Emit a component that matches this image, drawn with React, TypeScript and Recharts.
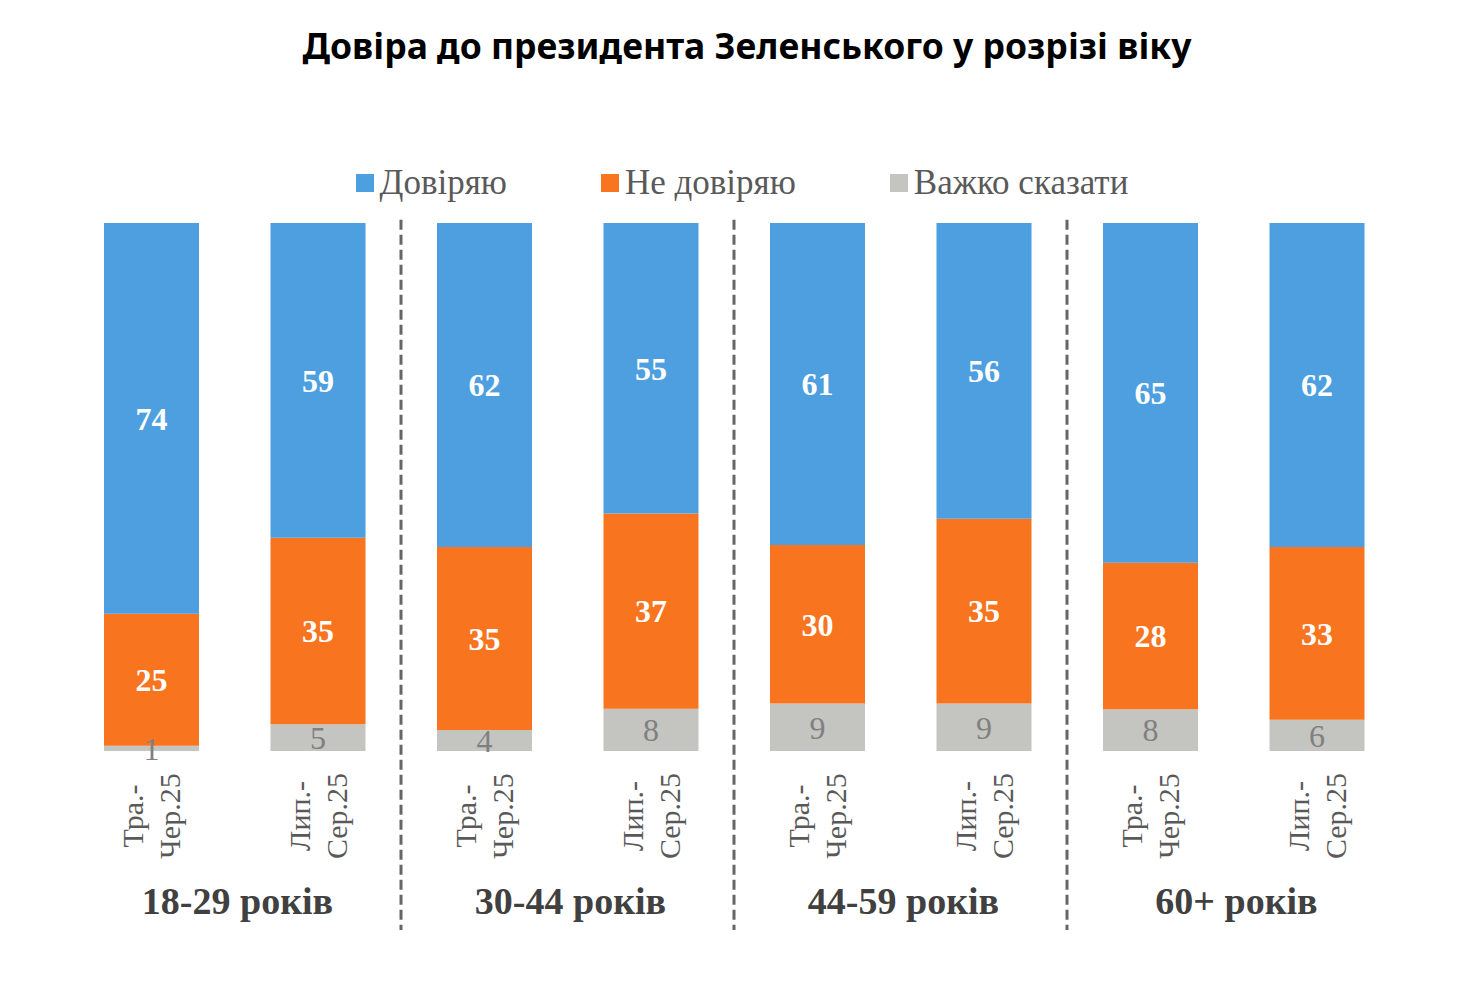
import React from "react";
import { BarChart, Bar, XAxis, YAxis, Legend, LabelList, ReferenceLine } from "recharts";

const ageGroups = ["18-29 років", "30-44 років", "44-59 років", "60+ років"];
const periods = [["Тра.-", "Чер.25"], ["Лип.-", "Сер.25"]];
const trust = [74, 59, 62, 55, 61, 56, 65, 62];
const distrust = [25, 35, 35, 37, 30, 35, 28, 33];
const hard = [1, 5, 4, 8, 9, 9, 8, 6];

const seriesNames = ["Довіряю", "Не довіряю", "Важко сказати"];
const COLORS = { trust: "#4D9FDF", distrust: "#F8741F", hard: "#C4C4C1" };

const SERIF = "'Liberation Serif', 'DejaVu Serif', serif";

const data = trust.map((t, i) => {
  const p = periods[i % 2];
  const group = ageGroups[Math.floor(i / 2)];
  return { key: `${group}|${p.join("")}`, group, p1: p[0], p2: p[1], trust: t, distrust: distrust[i], hard: hard[i] };
});

// separators sit at the start of the first bar of each age group after the first
const separators = data.filter((_, i) => i > 0 && i % 2 === 0).map(d => d.key);

const PeriodTick = (props: any) => {
  const { x, y, index } = props;
  const d = data[index];
  if (!d) return null;
  const style = { fontFamily: SERIF, fontSize: 30, fill: "#595959" };
  return (
    <g transform={`translate(${x},${y + 65})`}>
      <text transform="rotate(-90)" x={0} y={-8} textAnchor="middle" {...style}>{d.p1}</text>
      <text transform="rotate(-90)" x={0} y={29} textAnchor="middle" {...style}>{d.p2}</text>
    </g>
  );
};

const GroupTick = (props: any) => {
  const { x, y, payload } = props;
  return (
    <text x={x + 3} y={y + 34} textAnchor="middle" fontFamily={SERIF} fontWeight={700} fontSize={38} fill="#404040">
      {payload.value}
    </text>
  );
};

const renderLegend = () => {
  const colors = [COLORS.trust, COLORS.distrust, COLORS.hard];
  return (
    <div style={{ display: "flex", justifyContent: "center", alignItems: "center", height: 60, paddingLeft: 16 }}>
      {seriesNames.map((n, i) => (
        <div key={n} style={{ display: "flex", alignItems: "center", marginRight: i < 2 ? 94 : 0 }}>
          <span style={{ width: 18, height: 18, background: colors[i], display: "inline-block", marginRight: 6 }} />
          <span style={{ fontFamily: SERIF, fontSize: 35, color: "#595959" }}>{n}</span>
        </div>
      ))}
    </div>
  );
};

const valueLabel = { fill: "#ffffff", fontFamily: SERIF, fontWeight: 700, fontSize: 32 };

export default function App() {
  return (
    <div style={{ width: 1464, background: "#fff" }}>
      <div
        style={{
          height: 74,
          lineHeight: "74px",
          textAlign: "center",
          fontFamily: "'Noto Sans', sans-serif",
          fontWeight: 700,
          fontSize: 35.5,
          color: "#000",
          paddingLeft: 14,
        }}
      >
        Довіра до президента Зеленського у розрізі віку
      </div>
      <BarChart
        width={1464}
        height={880}
        data={data}
        stackOffset="expand"
        margin={{ top: 81, right: 72, bottom: 32, left: 60 }}
      >
        <XAxis dataKey="key" interval={0} height={129} tickSize={0} tickMargin={0} axisLine={false} tickLine={false} tick={<PeriodTick />} />
        <XAxis
          dataKey="group"
          xAxisId="grp"
          allowDuplicatedCategory={false}
          height={50}
          tickSize={0}
          tickMargin={0}
          axisLine={false}
          tickLine={false}
          interval={0}
          tick={<GroupTick />}
        />
        <YAxis hide domain={[0, 1]} />
        <Legend verticalAlign="top" height={60} content={renderLegend} wrapperStyle={{ top: 71 }} />
        {separators.map(k => (
          <ReferenceLine
            key={k}
            position="start"
            ifOverflow="visible"
            segment={[{ x: k, y: 1.006 }, { x: k, y: -0.339 }]}
            stroke="#666"
            strokeWidth={3}
            strokeDasharray="10 5"
          />
        ))}
        <Bar dataKey="hard" stackId="a" fill={COLORS.hard} barSize={95} isAnimationActive={false}>
          <LabelList dataKey="hard" position="center" {...valueLabel} fill="#808080" fontWeight={400} />
        </Bar>
        <Bar dataKey="distrust" stackId="a" fill={COLORS.distrust} barSize={95} isAnimationActive={false}>
          <LabelList dataKey="distrust" position="center" {...valueLabel} />
        </Bar>
        <Bar dataKey="trust" stackId="a" fill={COLORS.trust} barSize={95} isAnimationActive={false}>
          <LabelList dataKey="trust" position="center" {...valueLabel} />
        </Bar>
      </BarChart>
    </div>
  );
}
